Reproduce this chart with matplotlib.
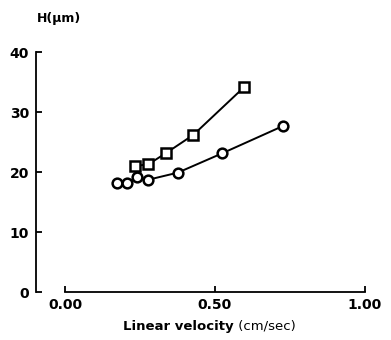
import numpy as np
import matplotlib.pyplot as plt

# squares (upper series)
sq_v = [0.233, 0.278, 0.338, 0.428, 0.596]
sq_h = [21.0, 21.3, 23.2, 26.2, 34.1]
# circles (lower series)
ci_v = [0.174, 0.208, 0.239, 0.276, 0.376, 0.523, 0.728]
ci_h = [18.1, 18.1, 19.2, 18.7, 19.9, 23.1, 27.7]

xticks = [0.0, 0.5, 1.0]
xlabels = ['0.00', '0.50', '1.00']
yticks = [0, 10, 20, 30, 40]

plt.rcParams['font.family'] = 'DejaVu Sans'
fig = plt.figure(figsize=(3.91, 3.40), dpi=100)
ax = fig.add_axes([0.092, 0.141, 0.849, 0.706])

ax.plot(sq_v, sq_h, color='black', lw=1.4, marker='s', ms=7,
        mfc='white', mec='black', mew=1.8, zorder=3)
ax.plot(ci_v, ci_h, color='black', lw=1.4, marker='o', ms=7,
        mfc='white', mec='black', mew=1.8, zorder=3)

ax.set_xlim(-0.097, 1.01)
ax.set_ylim(0, 40)
for s in ['top', 'right']:
    ax.spines[s].set_visible(False)
ax.spines['left'].set_bounds(0, 40)
ax.spines['bottom'].set_bounds(0, 1.0)
ax.spines['left'].set_linewidth(1.3)
ax.spines['bottom'].set_linewidth(1.3)

ax.set_xticks(xticks)
ax.set_xticklabels(xlabels, fontweight='bold', fontsize=10)
ax.set_yticks(yticks)
ax.set_yticklabels([str(t) for t in yticks], fontweight='bold', fontsize=10)
ax.tick_params(axis='both', direction='in', length=4, width=1.3, pad=4)
ax.tick_params(axis='y', pad=5)

fig.text(0.095, 0.935, 'H(\u03bcm)', fontweight='bold', fontsize=9)
t = fig.text(0.315, 0.03, 'Linear velocity', fontweight='bold', fontsize=9.5)
ax.annotate(' (cm/sec)', xy=(1, 0), xycoords=t, va='bottom', ha='left',
            fontsize=9.5)

fig.savefig('out.png', dpi=100)
